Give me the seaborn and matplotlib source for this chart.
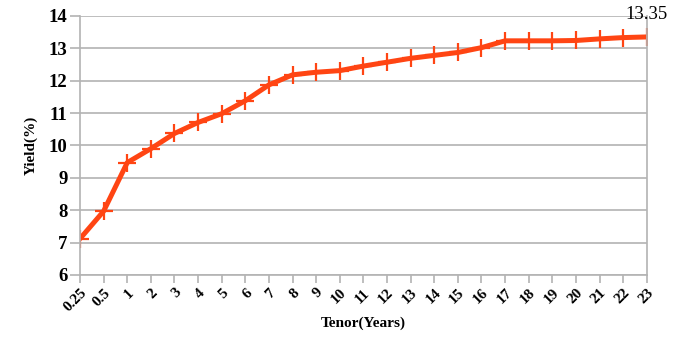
import matplotlib
matplotlib.use("Agg")
import matplotlib.pyplot as plt
import seaborn as sns
import numpy as np
import pandas as pd

tenors = ["0.25", "0.5", "1", "2", "3", "4", "5", "6", "7", "8", "9", "10", "11", "12",
          "13", "14", "15", "16", "17", "18", "19", "20", "21", "22", "23"]
yields = [7.12, 7.97, 9.47, 9.9, 10.37, 10.71, 10.98, 11.38, 11.87, 12.18, 12.26, 12.31,
          12.45, 12.57, 12.69, 12.78, 12.87, 13.02, 13.23, 13.23, 13.23, 13.24, 13.29, 13.33, 13.35]
yticks = [6, 7, 8, 9, 10, 11, 12, 13, 14]

sns.set_theme(style="white")
plt.rcParams['font.family'] = ['Liberation Serif', 'DejaVu Serif']
plt.rcParams['text.color'] = 'black'
plt.rcParams['xtick.labelcolor'] = 'black'
plt.rcParams['ytick.labelcolor'] = 'black'
plt.rcParams['axes.labelcolor'] = 'black'

df = pd.DataFrame({"pos": np.arange(len(tenors)), "Yield": yields})

fig = plt.figure(figsize=(6.78, 3.53), dpi=100)
ax = fig.add_axes([0.118, 0.221, 0.836, 0.734])

color = "#FF4513"
sns.lineplot(data=df, x="pos", y="Yield", ax=ax, color=color, linewidth=3.6,
             marker="+", markersize=13, markeredgewidth=1.6, markeredgecolor=color)

ax.set_xlim(0, len(tenors) - 1)
ax.set_ylim(6, 14)
ax.set_yticks(yticks)
ax.set_yticklabels([str(t) for t in yticks], fontsize=13.5, fontweight="bold")
ax.set_xticks(np.arange(len(tenors)))
ax.set_xticklabels(tenors, rotation=45, fontsize=11, fontweight="bold",
                   ha="right", va="top", rotation_mode="anchor")

ax.grid(axis="y", color="#B3B3B3", linewidth=1.2)
ax.set_axisbelow(True)
for s in ["left", "right", "bottom"]:
    ax.spines[s].set_color("#B3B3B3")
    ax.spines[s].set_linewidth(1.2)
ax.spines["top"].set_visible(False)
ax.tick_params(axis="x", direction="out", length=6, color="#B3B3B3", width=1.2, bottom=True, pad=2)
ax.tick_params(axis="y", direction="out", length=7, color="#B3B3B3", width=1.2, left=True, pad=2)

ax.set_xlabel("Tenor(Years)", fontsize=11, fontweight="bold", labelpad=2)
ax.set_ylabel("Yield(%)", fontsize=11, fontweight="bold", labelpad=8)

ax.annotate(f"{yields[-1]:.2f}", xy=(len(tenors) - 1, yields[-1]), xytext=(0, 10),
            textcoords="offset points", ha="center", va="bottom", fontsize=13.5,
            color="black", annotation_clip=False)

fig.savefig("out.png", dpi=100)
